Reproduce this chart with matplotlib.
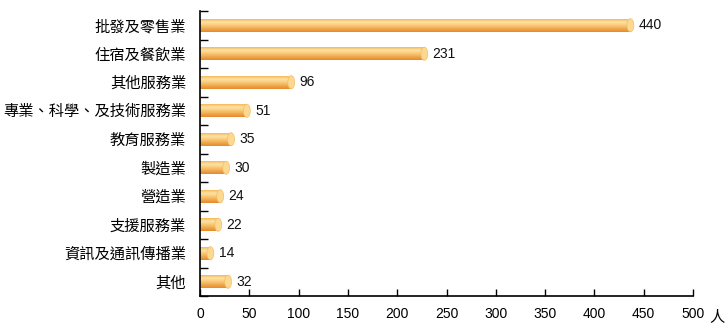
import numpy as np
import matplotlib.pyplot as plt
from matplotlib.colors import LinearSegmentedColormap
from matplotlib.patches import Ellipse

plt.rcParams['font.family'] = ['Liberation Sans', 'Noto Sans CJK TC']

# data (top to bottom)
industries = ["批發及零售業", "住宿及餐飲業", "其他服務業", "專業、科學、及技術服務業",
              "教育服務業", "製造業", "營造業", "支援服務業", "資訊及通訊傳播業", "其他"]
counts = [440, 231, 96, 51, 35, 30, 24, 22, 14, 32]
xticks = [0, 50, 100, 150, 200, 250, 300, 350, 400, 450, 500]

fig = plt.figure(figsize=(7.25, 3.31), dpi=100)
ax = fig.add_axes([200 / 725, 35 / 331, 493 / 725, 285 / 331])

y = np.arange(len(industries))
bar_h = 0.46
cap_w = 7  # width of rounded end cap in data units

# vertical gradient for the tube look
grad_cmap = LinearSegmentedColormap.from_list(
    "tube", [(0.0, "#f5ab45"), (0.3, "#fde3a6"), (0.55, "#f9c670"), (1.0, "#e5892b")])
grad = grad_cmap(np.linspace(0, 1, 64))[:, None, :]

bars = ax.barh(y, [c - cap_w / 2 for c in counts], height=bar_h,
               color="none", edgecolor="none")
for b, v, yi in zip(bars, counts, y):
    x0, w = b.get_x(), b.get_width()
    img = ax.imshow(grad, extent=(x0, x0 + w, yi + bar_h / 2, yi - bar_h / 2),
                    aspect="auto", interpolation="bilinear", zorder=2)
    img.set_clip_path(b)
    cap = Ellipse((x0 + w, yi), cap_w, bar_h, facecolor="#fcd890",
                  edgecolor="#f3bd66", linewidth=0.5, zorder=3)
    ax.add_patch(cap)
    ax.text(v + 5, yi, str(v), va="center", ha="left", fontsize=10, color="#111111")

ax.set_xlim(0, 500)
ax.set_ylim(len(industries) - 0.5, -0.5)
ax.set_xticks(xticks)
ax.set_xticklabels([str(t) for t in xticks], fontsize=10)
ax.tick_params(axis="x", direction="in", length=5, width=1, pad=8)

ax.set_yticks(y)
ax.set_yticklabels(industries, fontsize=11)
ax.tick_params(axis="y", which="major", length=0, pad=10)
ax.set_yticks(np.arange(-0.5, len(industries), 1), minor=True)
ax.tick_params(axis="y", which="minor", direction="in", length=6, width=1)

ax.annotate("人", xy=(500, 0), xycoords=("data", "axes fraction"),
            xytext=(12, -15), textcoords="offset points",
            ha="left", va="center", fontsize=11)

for s in ["top", "right"]:
    ax.spines[s].set_visible(False)
for s in ["left", "bottom"]:
    ax.spines[s].set_linewidth(1.2)

fig.savefig("out.png", dpi=100)
